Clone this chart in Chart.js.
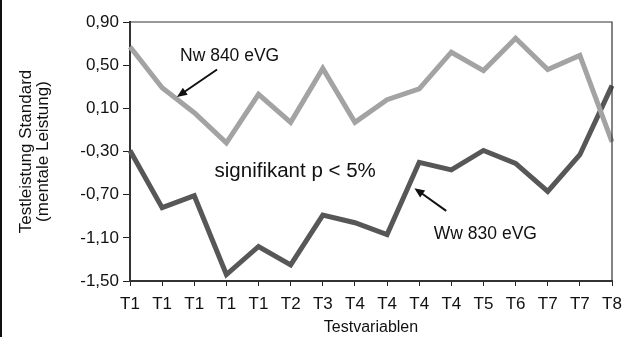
<!DOCTYPE html>
<html><head><meta charset="utf-8">
<script src="https://cdn.jsdelivr.net/npm/chart.js@4"></script>
<style>
html,body{margin:0;padding:0;background:#fff;}
#wrap{position:relative;width:632px;height:337px;}
#wrap:before{content:"";position:absolute;left:0;top:0;width:2px;height:337px;background:#111;z-index:2;}
</style></head>
<body><div id="wrap"><canvas id="c" width="632" height="337"></canvas></div>
<script>
const categories = ["T1","T1","T1","T1","T1","T2","T3","T4","T4","T4","T4","T5","T6","T7","T7","T8"];
const nw840 = [0.67,0.29,0.06,-0.22,0.23,-0.03,0.47,-0.03,0.18,0.28,0.62,0.45,0.75,0.46,0.59,-0.21];
const ww830 = [-0.29,-0.82,-0.71,-1.44,-1.18,-1.35,-0.89,-0.96,-1.07,-0.40,-0.47,-0.29,-0.41,-0.67,-0.33,0.31];
const yTicks = [-1.5,-1.1,-0.7,-0.3,0.1,0.5,0.9];
const labels = [
  {text:"Nw 840 eVG", x:3.1, y:0.58, size:17.5},
  {text:"signifikant p < 5%", x:5.14, y:-0.48, size:20.5},
  {text:"Ww 830 eVG", x:11.06, y:-1.07, size:17.5}
];
const arrows = [
  {x1:2.71, y1:0.46, x2:1.46, y2:0.205},
  {x1:9.84, y1:-0.85, x2:8.85, y2:-0.64}
];

const annot = {
  id:'annot',
  afterDatasetsDraw(chart){
    const {ctx, chartArea:a, scales:{x,y}} = chart;
    ctx.save();
    ctx.strokeStyle='#333'; ctx.lineWidth=1.2;
    ctx.beginPath();
    ctx.moveTo(a.left,a.top); ctx.lineTo(a.right,a.top); ctx.lineTo(a.right,a.bottom);
    ctx.stroke();
    ctx.fillStyle='#111'; ctx.textAlign='center'; ctx.textBaseline='middle';
    labels.forEach(l=>{
      ctx.font=l.size+'px "Liberation Sans", Arial, sans-serif';
      ctx.fillText(l.text, x.getPixelForValue(l.x), y.getPixelForValue(l.y));
    });
    ctx.strokeStyle='#111'; ctx.lineWidth=2;
    arrows.forEach(r=>{
      const x1=x.getPixelForValue(r.x1), y1=y.getPixelForValue(r.y1);
      const x2=x.getPixelForValue(r.x2), y2=y.getPixelForValue(r.y2);
      const ang=Math.atan2(y2-y1,x2-x1), L=11, W=0.4;
      ctx.beginPath(); ctx.moveTo(x1,y1);
      ctx.lineTo(x2-Math.cos(ang)*L*0.8, y2-Math.sin(ang)*L*0.8); ctx.stroke();
      ctx.beginPath(); ctx.moveTo(x2,y2);
      ctx.lineTo(x2-L*Math.cos(ang-W), y2-L*Math.sin(ang-W));
      ctx.lineTo(x2-L*Math.cos(ang+W), y2-L*Math.sin(ang+W));
      ctx.closePath(); ctx.fill();
    });
    ctx.restore();
  }
};

Chart.defaults.font.family='"Liberation Sans", Arial, sans-serif';
Chart.defaults.color='#111';
new Chart(document.getElementById('c'),{
  type:'line',
  data:{labels:categories, datasets:[
    {label:'Nw 840 eVG', data:nw840, borderColor:'#a3a3a3', borderWidth:5, pointRadius:0, tension:0},
    {label:'Ww 830 eVG', data:ww830, borderColor:'#575757', borderWidth:5, pointRadius:0, tension:0}
  ]},
  options:{
    responsive:false, animation:false,
    layout:{padding:{left:18,right:20,top:22,bottom:0}},
    plugins:{legend:{display:false}, tooltip:{enabled:false}},
    scales:{
      x:{
        offset:false,
        grid:{drawOnChartArea:false, drawTicks:true, tickLength:5, color:'#222'},
        border:{color:'#333', width:2},
        ticks:{font:{size:17}, color:'#111', maxRotation:0, autoSkip:false, padding:8},
        title:{display:true, text:'Testvariablen', font:{size:16}, color:'#111', padding:{top:0,bottom:0}},
        afterFit(s){ s.height=56; }
      },
      y:{
        min:-1.5, max:0.9,
        afterBuildTicks(s){ s.ticks = yTicks.map(v=>({value:v})); },
        grid:{drawOnChartArea:false, drawTicks:true, tickLength:7, color:'#222'},
        border:{color:'#333', width:2},
        ticks:{font:{size:17}, color:'#111', padding:4, callback:v=>v.toFixed(2).replace('.',',')},
        title:{display:true, text:['Testleistung Standard','(mentale Leistung)'], font:{size:17, lineHeight:1.0}, color:'#111', padding:{top:0,bottom:18}},
        afterFit(s){ s.width=112; }
      }
    }
  },
  plugins:[annot]
});
</script></body></html>
